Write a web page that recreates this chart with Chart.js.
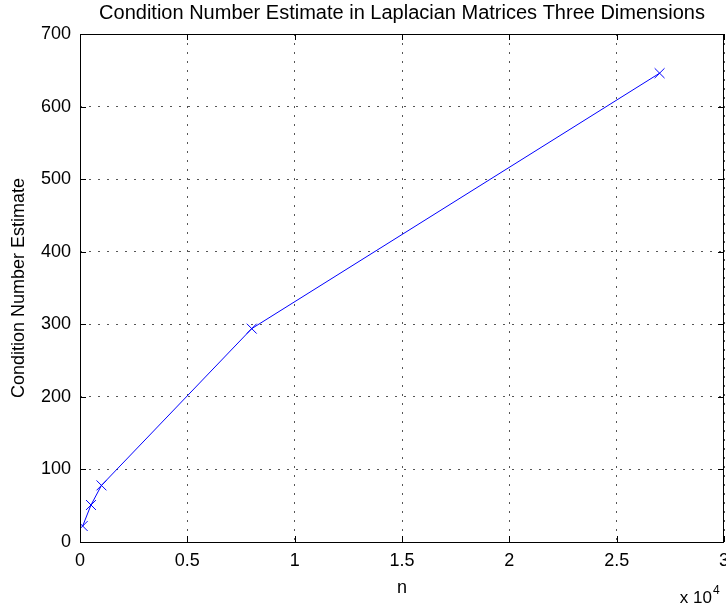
<!DOCTYPE html>
<html>
<head>
<meta charset="utf-8">
<script src="https://cdn.jsdelivr.net/npm/chart.js@4"></script>
<style>
  html, body { margin: 0; padding: 0; background: #fff; }
  #wrap { width: 726px; height: 610px; }
</style>
</head>
<body>
<div id="wrap"><canvas id="chart" width="726" height="610"></canvas></div>
<script>
// data
const titleText = "Condition Number Estimate in Laplacian Matrices Three Dimensions";
const nValues = [125, 512, 1000, 8000, 27000];
const condEstimates = [22, 51, 78, 294, 646];
const xTicks = [0, 5000, 10000, 15000, 20000, 25000, 30000];
const yTicks = [0, 100, 200, 300, 400, 500, 600, 700];

const FONT = "'Liberation Sans', Arial, Helvetica, sans-serif";

// matlab style box, inward ticks, title and the x10^4 exponent
const matlabBox = {
  id: 'matlabBox',
  afterDraw(chart) {
    const ctx = chart.ctx;
    const a = chart.chartArea;
    const xs = chart.scales.x, ys = chart.scales.y;
    const tl = 6;
    ctx.save();
    ctx.strokeStyle = '#000';
    ctx.lineWidth = 1;
    ctx.strokeRect(Math.round(a.left) + 0.5, Math.round(a.top) + 0.5,
      Math.round(a.right - a.left) - 1, Math.round(a.bottom - a.top));
    ctx.beginPath();
    xTicks.forEach(v => {
      const px = Math.round(xs.getPixelForValue(v)) + 0.5;
      ctx.moveTo(px, a.bottom); ctx.lineTo(px, a.bottom - tl);
      ctx.moveTo(px, a.top); ctx.lineTo(px, a.top + tl);
    });
    yTicks.forEach(v => {
      const py = Math.round(ys.getPixelForValue(v)) + 0.5;
      ctx.moveTo(a.left, py); ctx.lineTo(a.left + tl, py);
      ctx.moveTo(a.right, py); ctx.lineTo(a.right - tl, py);
    });
    ctx.stroke();

    ctx.fillStyle = '#000';
    ctx.font = '20px ' + FONT;
    ctx.textAlign = 'center';
    ctx.textBaseline = 'alphabetic';
    ctx.fillText(titleText, (a.left + a.right) / 2, 19);

    ctx.textAlign = 'right';
    ctx.font = '17px ' + FONT;
    ctx.fillText('x 10', 712, 603);
    ctx.textAlign = 'left';
    ctx.font = '12px ' + FONT;
    ctx.fillText('4', 713, 594);
    ctx.restore();
  }
};

new Chart(document.getElementById('chart'), {
  type: 'line',
  data: {
    datasets: [{
      data: nValues.map((n, i) => ({ x: n, y: condEstimates[i] })),
      borderColor: '#0000ff',
      backgroundColor: '#0000ff',
      borderWidth: 1,
      pointStyle: 'crossRot',
      pointRadius: 7,
      pointBorderWidth: 1,
      pointBorderColor: '#0000ff',
      tension: 0,
      fill: false
    }]
  },
  options: {
    responsive: false,
    animation: false,
    layout: { autoPadding: false, padding: { top: 34, right: 2, bottom: 0, left: 0 } },
    plugins: { legend: { display: false }, tooltip: { enabled: false }, title: { display: false } },
    scales: {
      x: {
        type: 'linear',
        min: 0, max: 30000,
        afterBuildTicks: s => { s.ticks = xTicks.map(v => ({ value: v })); },
        afterFit: s => { s.height = 68; s.paddingLeft = 0; s.paddingRight = 0; },
        ticks: {
          color: '#000', padding: 8, maxRotation: 0, autoSkip: false,
          font: { family: FONT, size: 18 },
          callback: v => String(v / 10000)
        },
        grid: { color: '#555', drawTicks: false, lineWidth: 1 },
        border: { display: false, dash: [2, 7] },
        title: { display: true, text: 'n', color: '#000', font: { family: FONT, size: 18 }, padding: { top: 0, bottom: 11 } }
      },
      y: {
        type: 'linear',
        min: 0, max: 700,
        afterBuildTicks: s => { s.ticks = yTicks.map(v => ({ value: v })); },
        afterFit: s => { s.width = 80; },
        ticks: {
          color: '#000', padding: 9, autoSkip: false,
          font: { family: FONT, size: 18 }
        },
        grid: { color: '#555', drawTicks: false, lineWidth: 1 },
        border: { display: false, dash: [2, 7] },
        title: { display: true, text: 'Condition Number Estimate', color: '#000', font: { family: FONT, size: 18 }, padding: { top: 8, bottom: 0 } }
      }
    }
  },
  plugins: [matlabBox]
});
</script>
</body>
</html>
